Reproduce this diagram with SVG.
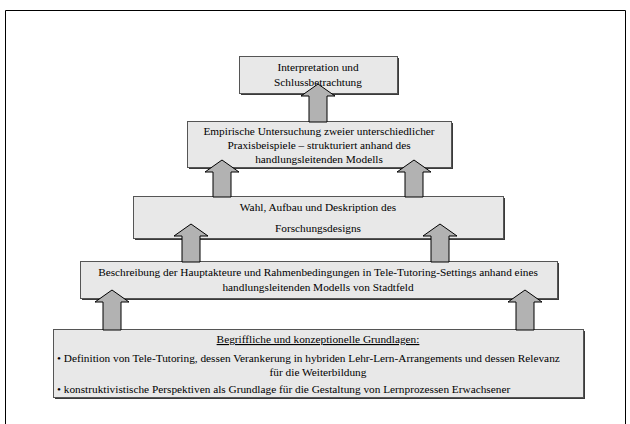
<svg xmlns="http://www.w3.org/2000/svg" width="630" height="424" viewBox="0 0 630 424">
<style>
.box{fill:#e8e8e8;stroke:#555;stroke-width:1}
.sh{fill:#3a3a3a}
.arr{fill:#b2b2b2;stroke:#000;stroke-width:1;stroke-linejoin:miter}
text{font-family:"Liberation Serif","Times New Roman",serif;font-size:11.3px;fill:#000}
.c{text-anchor:middle}
</style>
<rect width="630" height="424" fill="#fff"/>
<path d="M5.5,424 V10.5 H625.5 V424" fill="none" stroke="#000" stroke-width="1"/>

<g id="n5">
<rect class="sh" x="55" y="331" width="530" height="68"/>
<rect class="box" x="53.5" y="329.5" width="530" height="68"/>
<text class="c" x="318" y="343" text-decoration="underline">Begriffliche und konzeptionelle Grundlagen:</text>
<text x="57" y="362">• Definition von Tele-Tutoring, dessen Verankerung in hybriden Lehr-Lern-Arrangements und dessen Relevanz</text>
<text class="c" x="318" y="376">für die Weiterbildung</text>
<text x="57" y="393">• konstruktivistische Perspektiven als Grundlage für die Gestaltung von Lernprozessen Erwachsener</text>
</g>

<g id="n4">
<rect class="sh" x="82" y="263" width="477" height="37"/>
<rect class="box" x="80.5" y="261.5" width="477" height="37"/>
<text class="c" x="318" y="276">Beschreibung der Hauptakteure und Rahmenbedingungen in Tele-Tutoring-Settings anhand eines</text>
<text class="c" x="318" y="291">handlungsleitenden Modells von Stadtfeld</text>
</g>

<g id="n3">
<rect class="sh" x="135" y="198" width="370" height="42"/>
<rect class="box" x="133.5" y="196.5" width="370" height="42"/>
<text class="c" x="318" y="211">Wahl, Aufbau und Deskription des</text>
<text class="c" x="318" y="232">Forschungsdesigns</text>
</g>

<g id="n2">
<rect class="sh" x="189" y="123" width="264" height="46"/>
<rect class="box" x="187.5" y="121.5" width="264" height="46"/>
<text class="c" x="319" y="135">Empirische Untersuchung zweier unterschiedlicher</text>
<text class="c" x="319" y="149">Praxisbeispiele – strukturiert anhand des</text>
<text class="c" x="319" y="163">handlungsleitenden Modells</text>
</g>

<g id="n1">
<rect class="sh" x="241" y="58" width="158" height="37"/>
<rect class="box" x="239.5" y="56.5" width="158" height="37"/>
<text class="c" x="318" y="71">Interpretation und</text>
<text class="c" x="318" y="86">Schlussbetrachtung</text>
</g>

<g id="connectors">
<path class="arr" d="M318,84 L335,96 L327,96 L327,122 L309,122 L309,96 L301,96 Z"/>
<path class="arr" d="M222,160 L239,172 L231,172 L231,197 L213,197 L213,172 L205,172 Z"/>
<path class="arr" d="M414,160 L431,172 L423,172 L423,197 L405,197 L405,172 L397,172 Z"/>
<path class="arr" d="M191,224 L208,236 L200,236 L200,262 L182,262 L182,236 L174,236 Z"/>
<path class="arr" d="M440,224 L457,236 L449,236 L449,262 L431,262 L431,236 L423,236 Z"/>
<path class="arr" d="M112,290 L129,302 L121,302 L121,330 L103,330 L103,302 L95,302 Z"/>
<path class="arr" d="M525,290 L542,302 L534,302 L534,330 L516,330 L516,302 L508,302 Z"/>
</g>
</svg>
